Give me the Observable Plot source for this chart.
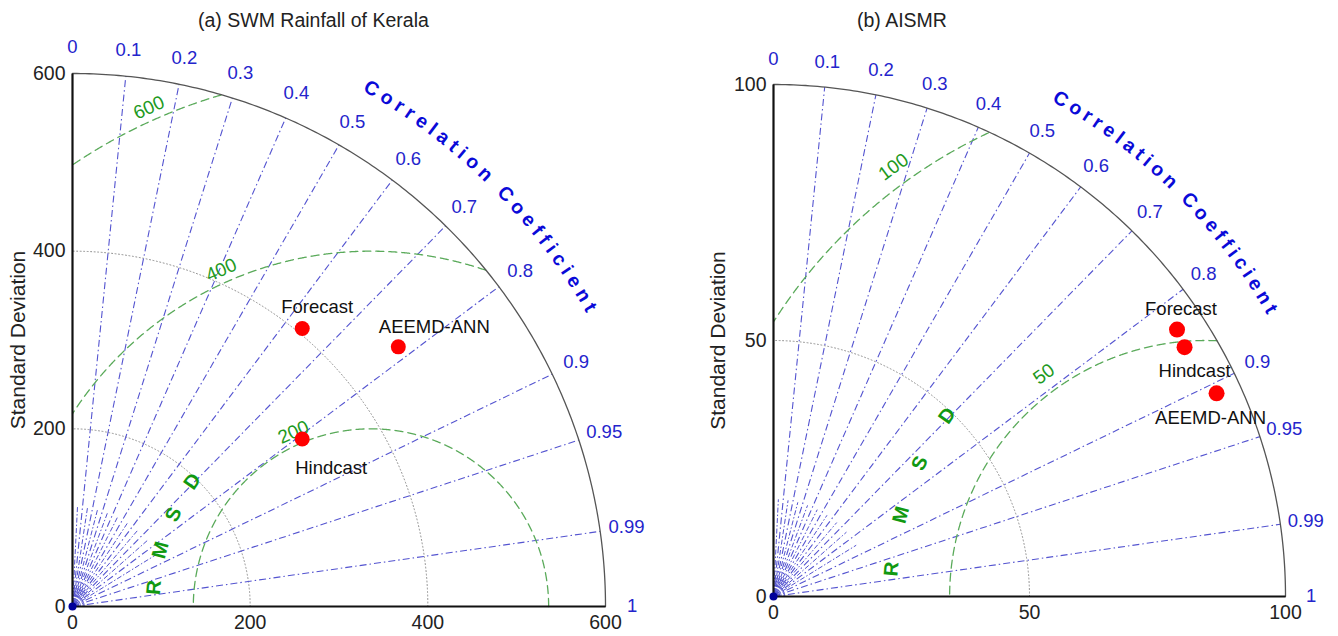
<!DOCTYPE html>
<html>
<head>
<meta charset="utf-8">
<script src="https://cdn.jsdelivr.net/npm/d3@7"></script>
<script src="https://cdn.jsdelivr.net/npm/@observablehq/plot@0.6"></script>
<style>
html,body{margin:0;padding:0;background:#fff;}
#wrap{position:relative;width:1338px;height:636px;overflow:hidden;font-family:"Liberation Sans",Arial,sans-serif;}
.title{position:absolute;top:8px;font-size:19.5px;line-height:24px;color:#222;white-space:nowrap;}
.panel{position:absolute;top:36px;width:669px;height:600px;}
.panel svg{overflow:visible;}
</style>
</head>
<body>
<div id="wrap"></div>
<script>
// ---------------- data ----------------
const panelTitles = ["(a) SWM Rainfall of Kerala", "(b) AISMR"];
const modelNames = ["Forecast", "Hindcast", "AEEMD-ANN"];
// (a) Kerala SWM rainfall
const keralaStd = [406, 320, 469];
const keralaCorr = [0.637, 0.808, 0.782];
const keralaRefStd = 336;
const keralaStdTicks = [0, 200, 400, 600];
const keralaStdGrid = [200, 400];
const keralaRmsdLevels = [200, 400, 600];
// (b) AISMR
const aismrStd = [94.5, 93.9, 95.2];
const aismrCorr = [0.834, 0.855, 0.909];
const aismrRefStd = 84.4;
const aismrStdTicks = [0, 50, 100];
const aismrStdGrid = [50];
const aismrRmsdLevels = [50, 100];
// correlation axis
const corrTicks = [0, 0.1, 0.2, 0.3, 0.4, 0.5, 0.6, 0.7, 0.8, 0.9, 0.95, 0.99, 1];
const corrTickLabels = ["0", "0.1", "0.2", "0.3", "0.4", "0.5", "0.6", "0.7", "0.8", "0.9", "0.95", "0.99", "1"];
const corrGridMajor = [0.1, 0.2, 0.3, 0.4, 0.5, 0.6, 0.7, 0.8, 0.9, 0.95, 0.99];
const corrGridMinor = [0.05, 0.15, 0.25, 0.35, 0.45, 0.55, 0.65, 0.75, 0.85];
const corrAxisTitle = "Correlation Coefficient";
const rmsdTitle = ["R", "M", "S", "D"];
const yAxisTitle = "Standard Deviation";

// ---------------- layout / style ----------------
const W = 669, H = 600;
const rad = Math.PI / 180;
const FONT = "Liberation Sans, Arial, sans-serif";
const panels = [
  {title: panelTitles[0], titleX: 198, left: 0, max: 600, ref: keralaRefStd,
   std: keralaStd, corr: keralaCorr, ticks: keralaStdTicks, stdGrid: keralaStdGrid, rmsd: keralaRmsdLevels,
   ml: 72, mr: 64, mt: 37, mb: 30,
   labelOff: [[15, -21], [29, 29], [36, -20]],
   rmsdLabelAngle: 114, rmsdLabelOutPx: 13, ylabelDx: -54, dotR: 7.5},
  {title: panelTitles[1], titleX: 188, left: 669, max: 100, ref: aismrRefStd,
   std: aismrStd, corr: aismrCorr, ticks: aismrStdTicks, stdGrid: aismrStdGrid, rmsd: aismrRmsdLevels,
   ml: 104, mr: 53, mt: 48, mb: 40,
   labelOff: [[4, -20], [10, 24], [-6, 25]],
   rmsdLabelAngle: 126, rmsdLabelOutPx: 19, ylabelDx: -55.5, dotR: 8}
];

const blueLine = "#5454d0";
const greenArc = "#5aaa5a";
const greenText = "#1e9a1e";
const blueText = "#2424cc";

const measureCtx = document.createElement("canvas").getContext("2d");

function taylor(p) {
  const max = p.max, ref = p.ref;
  const k = (W - p.ml - p.mr) / max; // px per unit
  const arc = (cx, R, n = 1500) => d3.range(n + 1).map(i => {
    const a = Math.PI * i / n;
    return {x: cx + R * Math.cos(a), y: R * Math.sin(a)};
  }).filter(d => d.x >= -1e-9 && d.x * d.x + d.y * d.y <= max * max * 1.00001);

  // curved "Correlation Coefficient" letters
  const fontSizeCC = 19.5;
  measureCtx.font = `bold ${fontSizeCC}px "Liberation Sans"`;
  const chars = corrAxisTitle.split("");
  const widths = chars.map(c => measureCtx.measureText(c).width);
  const Rcc = 1.122 * max, RccPx = Rcc * k;
  const a0 = 60, a1 = 30;
  let base = 0;
  for (let i = 1; i < chars.length; i++) base += widths[i - 1] / 2 + widths[i] / 2;
  const spacing = ((a0 - a1) * rad * RccPx - base) / (chars.length - 1);
  const charPos = [];
  let s = 0;
  chars.forEach((c, i) => {
    if (i > 0) s += widths[i - 1] / 2 + spacing + widths[i] / 2;
    const ang = a0 - (s / RccPx) / rad;
    if (c !== " ") charPos.push({c, ang});
  });

  const rmsdLetterR = 0.73 * ref;
  const rmsdLetterAngles = [175, 165, 155, 145];
  const out = p.rmsdLabelOutPx / k;
  const phi = p.rmsdLabelAngle;
  const idx = d3.range(modelNames.length);
  const px = i => p.std[i] * p.corr[i];
  const py = i => p.std[i] * Math.sqrt(1 - p.corr[i] * p.corr[i]);

  const marks = [
    // std grid (dotted)
    ...p.stdGrid.map(sv => Plot.line(arc(0, sv), {x: "x", y: "y", stroke: "#8c8c8c", strokeWidth: 1, strokeDasharray: "1,2.5"})),
    // minor correlation rays near origin
    Plot.link(corrGridMinor, {x1: () => 0, y1: () => 0, x2: c => 0.19 * max * c, y2: c => 0.19 * max * Math.sqrt(1 - c * c),
      stroke: blueLine, strokeWidth: 1, strokeDasharray: "5,2,1.5,2"}),
    // major correlation rays
    Plot.link(corrGridMajor, {x1: () => 0, y1: () => 0, x2: c => max * c, y2: c => max * Math.sqrt(1 - c * c),
      stroke: blueLine, strokeWidth: 1.1, strokeDasharray: "7,3,1.5,3"}),
    // tiny arcs at origin
    ...[0.008, 0.015, 0.022].map(f => Plot.line(arc(0, f * max, 60), {x: "x", y: "y", stroke: blueLine, strokeWidth: 1})),
    // RMSD arcs
    ...p.rmsd.map(R => Plot.line(arc(ref, R), {x: "x", y: "y", stroke: greenArc, strokeWidth: 1.3, strokeDasharray: "8,5"})),
    // outer arc
    Plot.line(arc(0, max, 400), {x: "x", y: "y", stroke: "#555", strokeWidth: 1.3}),
    // axes lines
    Plot.link([0, 1], {x1: () => 0, y1: () => 0, x2: d => d ? max : 0, y2: d => d ? 0 : max, stroke: "#111", strokeWidth: 2.2}),
    Plot.dot([0], {x: () => 0, y: () => 0, r: 4, fill: "#00009a"}),
    // correlation tick labels
    Plot.text(corrTicks, {x: c => 1.05 * max * c, y: c => 1.05 * max * Math.sqrt(1 - c * c),
      text: (c, i) => corrTickLabels[i], fill: blueText, fontSize: 18.5}),
    // curved axis title
    Plot.text(charPos, {x: d => Rcc * Math.cos(d.ang * rad), y: d => Rcc * Math.sin(d.ang * rad),
      text: d => d.c, rotate: d => 90 - d.ang, fill: "#0a0ad8", fontSize: fontSizeCC, fontWeight: "bold"}),
    // RMSD level labels
    Plot.text(p.rmsd, {x: R => ref + (R + out) * Math.cos(phi * rad), y: R => (R + out) * Math.sin(phi * rad),
      text: R => String(R), rotate: 90 - phi, fill: greenText, fontSize: 19}),
    // RMSD curved title
    Plot.text(rmsdTitle, {x: (d, i) => ref + rmsdLetterR * Math.cos(rmsdLetterAngles[i] * rad),
      y: (d, i) => rmsdLetterR * Math.sin(rmsdLetterAngles[i] * rad),
      text: d => d, rotate: (d, i) => 90 - rmsdLetterAngles[i], fill: "#119911", fontSize: 20, fontWeight: "bold"}),
    // model points
    Plot.dot(idx, {x: px, y: py, r: p.dotR, fill: "#ff0000", stroke: "none"}),
    ...idx.map(i => Plot.text([i], {x: px, y: py, text: () => modelNames[i],
      dx: p.labelOff[i][0], dy: p.labelOff[i][1], fill: "#111", fontSize: 18.5})),
    // y axis title
    Plot.text([yAxisTitle], {frameAnchor: "left", textAnchor: "middle", text: d => d, rotate: -90, dx: p.ylabelDx, fill: "#222", fontSize: 21})
  ];

  return Plot.plot({
    width: W, height: H,
    marginLeft: p.ml, marginRight: p.mr, marginTop: p.mt, marginBottom: p.mb,
    x: {domain: [0, max], ticks: p.ticks, tickSize: 0, tickPadding: 9, label: null, tickFormat: d => String(d)},
    y: {domain: [0, max], ticks: p.ticks, tickSize: 0, tickPadding: 7, label: null, tickFormat: d => String(d)},
    style: {fontFamily: FONT, fontSize: "19.5px", color: "#222", background: "transparent", overflow: "visible"},
    marks
  });
}

const wrap = document.getElementById("wrap");
panels.forEach(p => {
  const t = document.createElement("div");
  t.className = "title";
  t.style.left = (p.left + p.titleX) + "px";
  t.textContent = p.title;
  wrap.appendChild(t);
  const holder = document.createElement("div");
  holder.className = "panel";
  holder.style.left = p.left + "px";
  holder.appendChild(taylor(p));
  wrap.appendChild(holder);
});
</script>
</body>
</html>
